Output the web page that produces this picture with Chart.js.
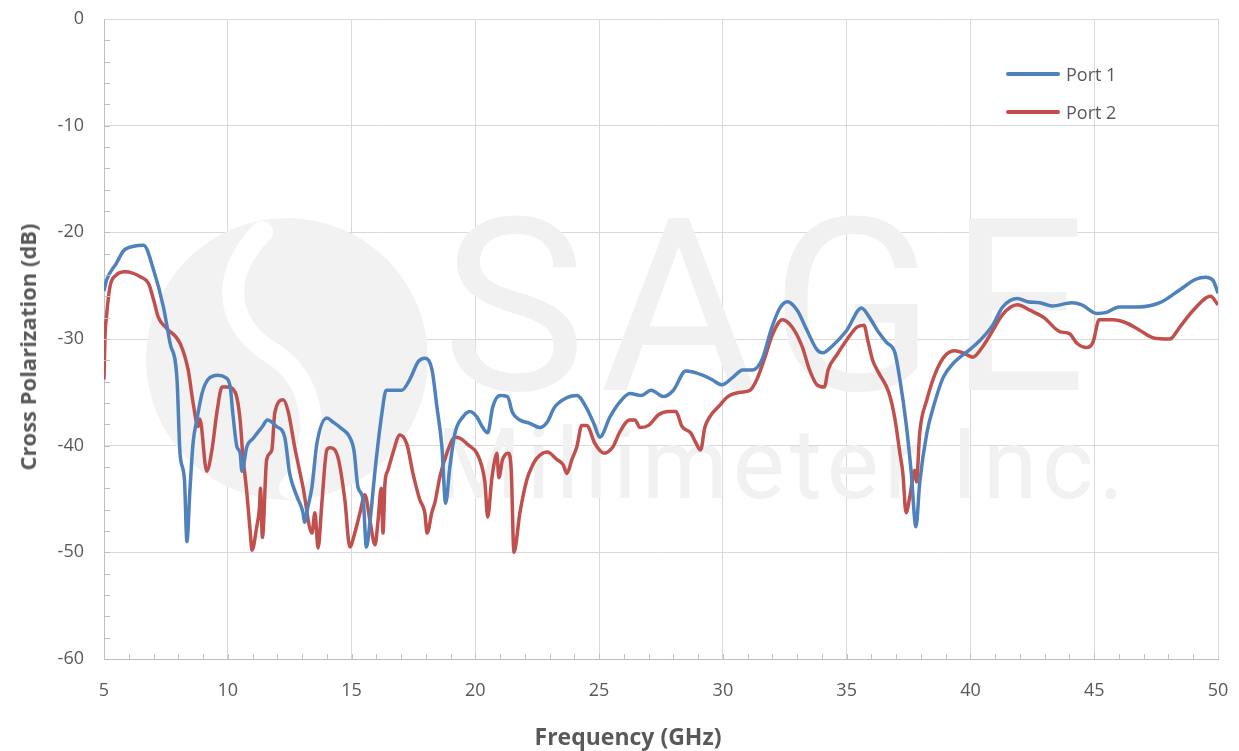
<!DOCTYPE html>
<html>
<head>
<meta charset="utf-8">
<script src="https://cdn.jsdelivr.net/npm/chart.js@4"></script>
<style>
  html, body { margin: 0; padding: 0; background: #fff; }
  #wrap { position: relative; width: 1239px; height: 751px; font-family: "Open Sans", sans-serif; color: #595959; }
  #legend { position: absolute; left: 1006px; top: 55px; font-size: 18px; }
  .item { display: flex; align-items: center; height: 38px; }
  .swatch { width: 54px; height: 4px; border-radius: 2px; margin-right: 6px; }
  .axis-title { position: absolute; font-weight: bold; line-height: 26px; white-space: nowrap; }
  #xTitle { left: 628px; top: 723px; font-size: 23px; transform: translateX(-50%); }
  #yTitle { left: 27px; top: 347px; font-size: 22px; transform: translate(-50%, -50%) rotate(-90deg); }
</style>
</head>
<body>
<div id="wrap">
  <canvas id="chart" width="1239" height="751"></canvas>
  <div id="legend"></div>
  <div id="xTitle" class="axis-title"></div>
  <div id="yTitle" class="axis-title"></div>
</div>
<script>
// Port 1 readings (GHz, dB)
const freq1 = [5.0, 5.1, 5.5, 5.8, 6.2, 6.6, 7.0, 7.4, 7.67, 7.95, 8.07, 8.25, 8.35, 8.47, 8.6, 8.75, 8.96, 9.2, 9.6, 9.9,
  10.1, 10.2, 10.37, 10.5, 10.57, 10.77, 11.03, 11.4, 11.6, 11.97, 12.3, 12.5, 12.8, 13.04, 13.1, 13.24, 13.4, 13.6, 14.0, 14.26,
  14.6, 14.9, 15.1, 15.26, 15.47, 15.6, 15.75, 15.95, 16.23, 16.4, 17.03, 17.35, 17.7, 17.96, 18.25, 18.45, 18.65, 18.8, 18.97, 19.18,
  19.5, 19.78, 20.06, 20.3, 20.5, 20.7, 21.0, 21.3, 21.5, 21.8, 22.2, 22.6, 22.9, 23.2, 23.7, 24.1, 24.5, 24.8, 25.03, 25.44,
  25.84, 26.24, 26.7, 27.1, 27.6, 28.0, 28.5, 29.2, 29.55, 29.96, 30.4, 30.8, 31.2, 31.57, 31.98, 32.3, 32.6, 33.0, 33.4, 33.8,
  34.04, 34.4, 35.0, 35.6, 35.9, 36.3, 36.6, 36.95, 37.15, 37.4, 37.6, 37.8, 37.95, 38.24, 38.5, 38.9, 39.3, 39.97, 40.4, 40.9,
  41.3, 41.9, 42.3, 42.8, 43.3, 44.1, 44.5, 45.1, 45.5, 46.0, 46.8, 47.65, 48.45, 49.1, 49.5, 49.8, 50.0];
const port1 = [-25.5, -24.5, -22.9, -21.7, -21.3, -21.2, -23.5, -27.0, -30.4, -33.8, -40.7, -43.2, -49.0, -44.2, -39.7, -37.6, -35.1, -33.8, -33.4, -33.6,
  -34.5, -36.9, -40.1, -40.7, -42.4, -40.1, -39.3, -38.2, -37.6, -38.2, -39.2, -42.6, -44.8, -46.3, -47.2, -45.7, -43.9, -39.8, -37.4, -37.8,
  -38.4, -39.1, -40.5, -43.9, -45.1, -49.5, -47.0, -42.3, -36.9, -34.8, -34.8, -33.8, -32.1, -31.8, -32.9, -36.4, -40.1, -45.4, -42.0, -38.8,
  -37.3, -36.8, -37.3, -38.3, -38.8, -36.4, -35.3, -35.4, -36.9, -37.6, -37.9, -38.3, -37.8, -36.4, -35.5, -35.3, -36.5, -38.0, -39.2, -37.3,
  -35.9, -35.1, -35.3, -34.8, -35.4, -34.8, -33.0, -33.4, -33.8, -34.3, -33.6, -32.9, -32.9, -32.0, -28.9, -27.1, -26.5, -27.3, -29.2, -31.0,
  -31.3, -30.7, -29.2, -27.1, -27.9, -29.4, -30.3, -31.3, -33.8, -37.9, -42.3, -47.6, -43.5, -38.8, -36.4, -33.6, -32.3, -31.0, -30.1, -28.7,
  -27.0, -26.2, -26.5, -26.6, -26.9, -26.6, -26.8, -27.6, -27.5, -27.0, -27.0, -26.6, -25.4, -24.4, -24.2, -24.5, -25.7];

// Port 2 readings (GHz, dB)
const freq2 = [5.0, 5.04, 5.1, 5.24, 5.5, 5.85, 6.5, 6.8, 7.0, 7.2, 7.53, 8.07, 8.4, 8.6, 8.8, 8.87, 9.15, 9.36, 9.56, 9.77,
  9.97, 10.3, 10.5, 10.6, 10.77, 10.9, 10.98, 11.17, 11.28, 11.32, 11.4, 11.57, 11.78, 11.9, 12.24, 12.45, 12.7, 13.04, 13.4, 13.52,
  13.65, 13.8, 14.0, 14.13, 14.45, 14.73, 14.93, 15.13, 15.34, 15.54, 15.74, 15.95, 16.07, 16.2, 16.27, 16.35, 16.47, 16.67, 16.95, 17.24,
  17.48, 17.76, 17.96, 18.05, 18.25, 18.37, 18.57, 18.85, 19.18, 19.38, 19.7, 20.06, 20.27, 20.39, 20.5, 20.66, 20.79, 20.87, 20.95, 21.1,
  21.33, 21.45, 21.56, 21.8, 22.08, 22.28, 22.48, 22.9, 23.3, 23.55, 23.7, 23.9, 24.1, 24.3, 24.5, 24.83, 25.2, 25.56, 25.84, 26.24,
  26.45, 26.65, 27.0, 27.4, 27.8, 28.1, 28.35, 28.7, 28.9, 29.1, 29.27, 29.47, 29.88, 30.2, 30.7, 31.1, 31.37, 31.7, 32.0, 32.4,
  32.8, 33.2, 33.5, 33.8, 34.1, 34.25, 34.6, 35.0, 35.4, 35.7, 35.85, 36.05, 36.3, 36.7, 36.95, 37.15, 37.27, 37.4, 37.55, 37.75,
  37.82, 37.95, 38.24, 38.64, 39.0, 39.37, 39.7, 40.1, 40.5, 40.9, 41.3, 41.9, 42.4, 42.97, 43.6, 44.0, 44.3, 44.7, 44.95, 45.2,
  45.75, 46.3, 46.85, 47.4, 48.05, 48.45, 49.0, 49.7, 50.0];
const port2 = [-33.8, -29.8, -27.9, -25.1, -24.0, -23.7, -24.2, -24.8, -26.3, -28.0, -29.0, -30.4, -32.9, -36.0, -38.2, -37.5, -42.4, -40.4, -36.9, -34.5,
  -34.5, -35.0, -37.6, -40.7, -44.4, -47.9, -49.8, -47.6, -45.8, -44.0, -48.6, -41.3, -40.4, -36.9, -35.7, -36.9, -40.1, -43.9, -48.2, -46.3,
  -49.6, -45.4, -40.4, -40.2, -41.1, -45.1, -49.5, -48.2, -46.3, -44.6, -47.0, -49.3, -47.0, -44.0, -48.2, -43.5, -42.3, -40.7, -39.0, -39.9,
  -42.6, -45.1, -46.3, -48.2, -46.2, -45.3, -42.9, -40.7, -39.2, -39.3, -39.9, -40.7, -42.0, -43.5, -46.7, -43.2, -41.3, -40.7, -43.0, -41.3,
  -40.7, -42.3, -50.0, -46.3, -43.2, -42.0, -41.2, -40.6, -41.3, -41.8, -42.6, -41.3, -40.1, -38.1, -38.1, -39.8, -40.7, -40.1, -38.7, -37.6,
  -37.6, -38.3, -38.1, -37.1, -36.8, -36.8, -38.2, -38.8, -39.7, -40.4, -38.3, -37.3, -36.2, -35.4, -35.0, -34.8, -33.8, -31.7, -29.6, -28.2,
  -28.9, -30.7, -32.9, -34.3, -34.5, -32.9, -31.5, -30.1, -28.9, -28.7, -30.1, -32.0, -33.2, -35.0, -37.5, -40.7, -42.6, -46.3, -44.8, -42.3,
  -43.4, -38.8, -35.7, -32.9, -31.5, -31.1, -31.3, -31.7, -30.7, -29.2, -27.7, -26.8, -27.3, -28.0, -29.3, -29.5, -30.4, -30.8, -30.3, -28.2,
  -28.2, -28.5, -29.2, -29.9, -30.0, -28.9, -27.3, -26.0, -26.8];

const seriesNames = ['Port 1', 'Port 2'];
const seriesColors = ['#4f81bd', '#c0504d'];
const xTitle = 'Frequency (GHz)';
const yTitle = 'Cross Polarization (dB)';

const xMin = 5, xMax = 50, xStep = 5;
const yMin = -60, yMax = 0, yStep = 10;

const toPoints = (xs, ys) => xs.map((x, i) => ({ x: x, y: ys[i] }));

// faint company watermark behind the traces
const watermark = {
    id: 'watermark',
    beforeDatasetsDraw(chart) {
        const ctx = chart.ctx;
        ctx.save();
        ctx.fillStyle = '#f2f2f2';
        ctx.beginPath();
        ctx.arc(287, 359, 141, 0, Math.PI * 2);
        ctx.fill();
        ctx.strokeStyle = '#ffffff';
        ctx.lineWidth = 22;
        ctx.lineCap = 'round';
        ctx.beginPath();
        ctx.moveTo(262, 232);
        ctx.bezierCurveTo(215, 280, 230, 330, 275, 355);
        ctx.bezierCurveTo(320, 385, 320, 450, 290, 488);
        ctx.stroke();
        ctx.fillStyle = '#f1f1f1';
        ctx.textBaseline = 'alphabetic';
        ctx.font = '400 242px Roboto';
        ctx.letterSpacing = '14px';
        ctx.fillText('SAGE', 442, 390);
        ctx.font = '400 98px Roboto';
        ctx.letterSpacing = '5px';
        ctx.fillText('Millimeter Inc.', 436, 498);
        ctx.restore();
    }
};

// small inside tick marks like the original axes
const minorTicks = {
    id: 'minorTicks',
    afterDatasetsDraw(chart) {
        const ctx = chart.ctx;
        const xs = chart.scales.x, ys = chart.scales.y;
        const area = chart.chartArea;
        ctx.save();
        ctx.strokeStyle = '#bfbfbf';
        ctx.lineWidth = 1;
        ctx.beginPath();
        for (let v = xMin + 1; v < xMax; v++) {
            const px = Math.round(xs.getPixelForValue(v)) + 0.5;
            ctx.moveTo(px, area.bottom);
            ctx.lineTo(px, area.bottom - 5);
        }
        for (let v = yMin + 2; v < yMax; v += 2) {
            const py = Math.round(ys.getPixelForValue(v)) + 0.5;
            ctx.moveTo(area.left, py);
            ctx.lineTo(area.left + 6, py);
        }
        ctx.stroke();
        ctx.restore();
    }
};

const ctx = document.getElementById('chart').getContext('2d');
const chart = new Chart(ctx, {
    type: 'line',
    data: {
        datasets: [
            {
                label: seriesNames[0],
                data: toPoints(freq1, port1),
                borderColor: seriesColors[0],
                borderWidth: 3.5,
                pointRadius: 0,
                cubicInterpolationMode: 'monotone',
                fill: false
            },
            {
                label: seriesNames[1],
                data: toPoints(freq2, port2),
                borderColor: seriesColors[1],
                borderWidth: 3.5,
                pointRadius: 0,
                cubicInterpolationMode: 'monotone',
                fill: false
            }
        ]
    },
    options: {
        responsive: false,
        animation: false,
        layout: {
            padding: { top: 19, right: 21, left: 0, bottom: 0 }
        },
        scales: {
            x: {
                type: 'linear',
                min: xMin,
                max: xMax,
                // fixed box; tick padding must not eat into the plot width
                afterFit: s => { s.height = 92; s.paddingLeft = 0; s.paddingRight = 0; },
                grid: { color: '#d9d9d9', drawTicks: false },
                border: { color: '#bfbfbf' },
                ticks: {
                    stepSize: xStep,
                    padding: 21,
                    color: '#595959',
                    font: { family: 'Open Sans', size: 18 }
                }
            },
            y: {
                min: yMin,
                max: yMax,
                afterFit: s => { s.width = 104; s.paddingTop = 0; s.paddingBottom = 0; },
                grid: { color: '#d9d9d9', drawTicks: false },
                border: { color: '#bfbfbf' },
                ticks: {
                    stepSize: yStep,
                    padding: 20,
                    color: '#595959',
                    font: { family: 'Open Sans', size: 18 }
                }
            }
        },
        plugins: {
            legend: { display: false },
            tooltip: { enabled: false }
        }
    },
    plugins: [watermark, minorTicks]
});

// axis titles sit a little off-centre in the original, so place them as html
document.getElementById('xTitle').textContent = xTitle;
document.getElementById('yTitle').textContent = yTitle;

// legend drawn as html, top right inside the plot
const legendEl = document.getElementById('legend');
seriesNames.forEach((name, i) => {
    const row = document.createElement('div');
    row.className = 'item';
    const sw = document.createElement('div');
    sw.className = 'swatch';
    sw.style.background = seriesColors[i];
    const label = document.createElement('span');
    label.textContent = name;
    row.appendChild(sw);
    row.appendChild(label);
    legendEl.appendChild(row);
});
</script>
</body>
</html>
